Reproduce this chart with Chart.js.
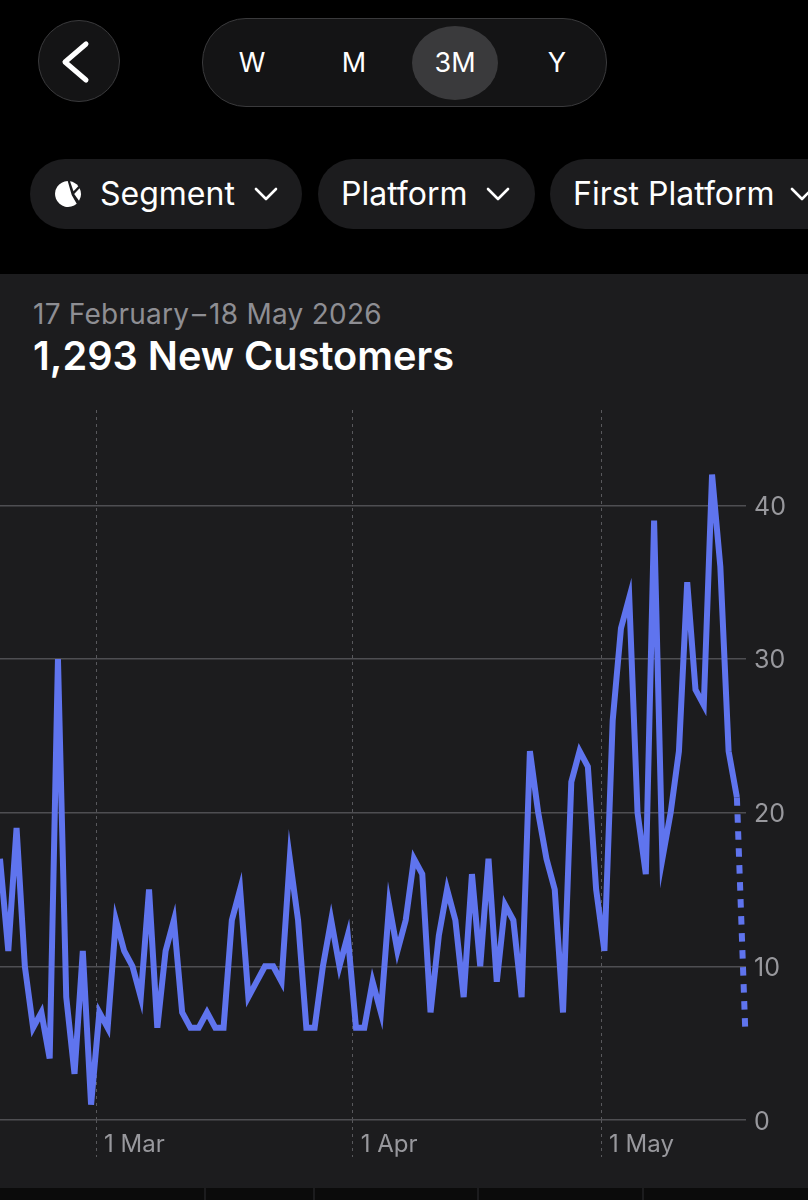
<!DOCTYPE html>
<html>
<head>
<meta charset="utf-8">
<title>New Customers</title>
<script src="https://cdn.jsdelivr.net/npm/chart.js@4"></script>
<style>
    html, body { margin: 0; padding: 0; background: #000; }
    body { width: 808px; height: 1200px; position: relative; overflow: hidden; font-family: Inter, "Noto Sans", sans-serif; color: #fff; }
    .back { position: absolute; left: 38px; top: 20px; width: 80px; height: 80px; border-radius: 50%; background: #141415; border: 1px solid #3a3a3c; }
    .back svg { position: absolute; left: 0; top: 0; }
    .range { position: absolute; left: 202px; top: 18px; width: 403px; height: 87px; border-radius: 44px; background: #141415; border: 1px solid #3a3a3c; }
    .range span { position: absolute; top: 0; width: 86px; height: 87px; line-height: 87px; text-align: center; font-size: 27px; }
    .range .on { top: 7px; height: 74px; line-height: 74px; border-radius: 43px / 37px; background: #3a3a3c; }
    .pill { position: absolute; top: 159px; height: 70px; line-height: 69px; border-radius: 35px; background: #1c1c1e; font-size: 32px; white-space: nowrap; }
    .pill svg { position: absolute; }
    .panel { position: absolute; left: 0; top: 274px; width: 808px; height: 914px; background: #1c1c1e; }
    .dates { position: absolute; left: 33px; top: 23px; font-size: 28px; letter-spacing: 0.25px; color: #8e8e93; white-space: nowrap; }
    .total { position: absolute; left: 33px; top: 58px; font-size: 39.7px; font-weight: 600; white-space: nowrap; }
    #chartBox { position: absolute; left: 0; top: 410px; width: 808px; height: 778px; }
    .tab { position: absolute; top: 1188px; width: 2px; height: 12px; background: #1c1c1e; }
    .strip { position: absolute; left: 0; top: 1188px; width: 808px; height: 12px; background: #0b0b0b; }
</style>
</head>
<body>
<div class="back"><svg width="80" height="80"><path d="M47 23 L26 41 L47 59" fill="none" stroke="#fff" stroke-width="5" stroke-linecap="round" stroke-linejoin="round"/></svg></div>
<div class="range">
    <span style="left:6px">W</span>
    <span style="left:108px">M</span>
    <span class="on" style="left:209px">3M</span>
    <span style="left:311px">Y</span>
</div>
<div class="pill" style="left:30px;width:272px">
    <svg style="left:24px;top:21px" width="28" height="28" viewBox="0 0 28 28"><path d="M13.7 1 L17.7 15 L22.7 23.7 A13 13 0 1 1 13.7 1 Z" fill="#fff"/><path d="M16 1.2 A13 13 0 0 1 24.3 6.2 L19.5 11.3 Z" fill="#fff"/><path d="M25.6 8.2 A13 13 0 0 1 25 20.8 L20.2 14 Z" fill="#fff"/></svg>
    <span style="position:absolute;left:70px">Segment</span>
    <svg style="left:224px;top:27px" width="24" height="16"><path d="M2 3 L12 13 L22 3" fill="none" stroke="#fff" stroke-width="2.6" stroke-linecap="round" stroke-linejoin="round"/></svg>
</div>
<div class="pill" style="left:318px;width:217px">
    <span style="position:absolute;left:23px">Platform</span>
    <svg style="left:168px;top:27px" width="24" height="16"><path d="M2 3 L12 13 L22 3" fill="none" stroke="#fff" stroke-width="2.6" stroke-linecap="round" stroke-linejoin="round"/></svg>
</div>
<div class="pill" style="left:550px;width:300px">
    <span style="position:absolute;left:23px">First Platform</span>
    <svg style="left:240px;top:27px" width="24" height="16"><path d="M2 3 L12 13 L22 3" fill="none" stroke="#fff" stroke-width="2.6" stroke-linecap="round" stroke-linejoin="round"/></svg>
</div>
<div class="panel">
    <div class="dates">17 February&#8202;–&#8202;18 May 2026</div>
    <div class="total">1,293 New Customers</div>
</div>
<div id="chartBox"><canvas id="customersChart" width="808" height="778"></canvas></div>
<div class="strip"></div>
<div class="tab" style="left:204px"></div>
<div class="tab" style="left:313px"></div>
<div class="tab" style="left:477px"></div>
<div class="tab" style="left:642px"></div>

<script>
// new customers per day, 17 Feb to 18 May
const newCustomers = [
    17, 11, 19, 10, 6, 7, 4, 30, 8, 3, 11, 1,
    7, 6, 13, 11, 10, 8, 15, 6, 11, 13, 7, 6, 6, 7, 6, 6, 13, 15, 8, 9, 10, 10, 9, 17, 13, 6, 6, 10, 13, 10, 12,
    6, 6, 9, 7, 14, 11, 13, 17, 16, 7, 12, 15, 13, 8, 16, 10, 17, 9, 14, 13, 8, 24, 20, 17, 15, 7, 22, 24, 23, 15,
    11, 26, 32, 34, 20, 16, 39, 17, 20, 24, 35, 28, 27, 42, 36, 24, 21, 6
];
const monthTicks = [11.6, 42.6, 72.6];
const monthLabels = ['1 Mar', '1 Apr', '1 May'];
const valueTicks = [0, 10, 20, 30, 40];

const lastPoint = newCustomers.length - 1;

new Chart(document.getElementById('customersChart'), {
    type: 'line',
    data: {
        datasets: [{
            label: 'New Customers',
            data: newCustomers.map((v, i) => ({ x: i, y: v })),
            borderColor: '#5f74ee',
            borderWidth: 6,
            borderJoinStyle: 'miter',
            borderCapStyle: 'butt',
            pointRadius: 0,
            tension: 0,
            clip: false,
            segment: {
                borderDash: ctx => ctx.p1DataIndex === lastPoint ? [8.5, 8.5] : undefined
            }
        }]
    },
    options: {
        responsive: false,
        animation: false,
        events: [],
        layout: { padding: 0 },
        plugins: { legend: { display: false }, tooltip: { enabled: false } },
        scales: {
            x: {
                type: 'linear',
                min: 0,
                max: 90.1,
                afterFit: scale => { scale.height = 68; scale.paddingLeft = 0; scale.paddingRight = 0; },
                afterBuildTicks: scale => { scale.ticks = monthTicks.map(v => ({ value: v })); },
                grid: {
                    color: '#58585c',
                    lineWidth: 1,
                    drawTicks: true,
                    tickLength: 37,
                    tickColor: '#58585c',
                    tickBorderDash: [3, 4]
                },
                border: { display: false, dash: [3, 4] },
                ticks: {
                    autoSkip: false,
                    maxRotation: 0,
                    align: 'start',
                    labelOffset: 8,
                    padding: -27,
                    color: '#98989d',
                    font: { family: 'Inter', size: 24 },
                    callback: value => monthLabels[monthTicks.indexOf(value)]
                }
            },
            y: {
                position: 'right',
                min: 0,
                max: 46.2,
                afterFit: scale => { scale.width = 62; scale.paddingTop = 0; scale.paddingBottom = 0; },
                afterBuildTicks: scale => { scale.ticks = valueTicks.map(v => ({ value: v })); },
                grid: { color: '#4e4e52', lineWidth: 1.5, drawTicks: false },
                border: { display: false },
                ticks: {
                    padding: 8,
                    labelOffset: 2,
                    color: '#98989d',
                    font: { family: 'Inter', size: 25 }
                }
            }
        }
    }
});
</script>
</body>
</html>
